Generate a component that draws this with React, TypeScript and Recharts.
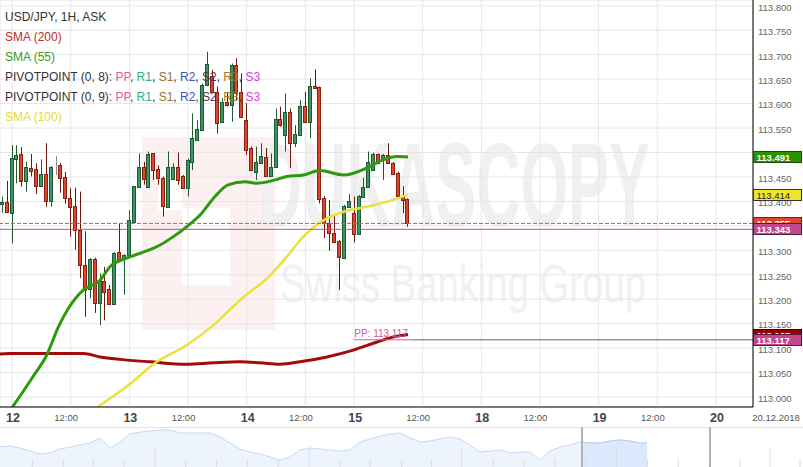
import React from 'react';
import { ComposedChart, Bar, Line, XAxis, YAxis, CartesianGrid, ReferenceLine, AreaChart, Area } from 'recharts';

const FONT = '"Liberation Sans", Arial, Helvetica, sans-serif';

// ---- hourly candles (USD/JPY, 1H, ASK) ----
const candleOpen = [113.394,113.399,113.376,113.486,113.497,113.442,113.468,113.466,113.432,113.457,113.401,113.469,113.474,113.449,113.408,113.391,113.342,113.271,113.220,113.282,113.193,113.237,113.220,113.190,113.297,113.284,113.290,113.358,113.430,113.471,113.430,113.498,113.466,113.448,113.389,113.445,113.471,113.451,113.427,113.481,113.526,113.546,113.638,113.656,113.624,113.563,113.604,113.597,113.679,113.624,113.566,113.509,113.460,113.479,113.491,113.451,113.471,113.568,113.536,113.583,113.519,113.536,113.595,113.563,113.636,113.633,113.408,113.355,113.336,113.319,113.284,113.388,113.377,113.333,113.410,113.430,113.464,113.496,113.485,113.495,113.479,113.459,113.411,113.404];
const candleHigh = [113.410,113.442,113.515,113.515,113.511,113.481,113.497,113.478,113.486,113.519,113.472,113.493,113.479,113.460,113.427,113.428,113.420,113.339,113.284,113.285,113.253,113.266,113.229,113.297,113.355,113.292,113.382,113.431,113.498,113.481,113.502,113.498,113.474,113.451,113.502,113.478,113.500,113.454,113.488,113.580,113.566,113.641,113.706,113.669,113.635,113.611,113.624,113.682,113.693,113.662,113.601,113.512,113.512,113.519,113.509,113.498,113.590,113.594,113.621,113.590,113.556,113.607,113.624,113.652,113.670,113.635,113.411,113.403,113.372,113.321,113.393,113.415,113.410,113.413,113.448,113.502,113.500,113.498,113.497,113.519,113.481,113.461,113.431,113.406];
const candleLow = [113.377,113.378,113.314,113.437,113.430,113.420,113.451,113.415,113.430,113.389,113.389,113.454,113.418,113.395,113.328,113.301,113.243,113.164,113.202,113.172,113.147,113.157,113.190,113.190,113.276,113.209,113.290,113.358,113.430,113.434,113.430,113.444,113.434,113.369,113.389,113.444,113.434,113.427,113.410,113.464,113.526,113.546,113.638,113.624,113.539,113.563,113.594,113.563,113.607,113.573,113.495,113.464,113.444,113.479,113.451,113.451,113.471,113.553,113.502,113.468,113.511,113.536,113.563,113.529,113.631,113.396,113.325,113.299,113.316,113.219,113.284,113.388,113.316,113.333,113.410,113.430,113.464,113.476,113.444,113.477,113.454,113.409,113.376,113.348];
const candleClose = [113.399,113.378,113.488,113.495,113.442,113.470,113.463,113.431,113.457,113.401,113.470,113.469,113.448,113.406,113.388,113.342,113.269,113.219,113.282,113.192,113.237,113.215,113.190,113.295,113.279,113.290,113.362,113.431,113.471,113.446,113.496,113.464,113.447,113.391,113.471,113.471,113.444,113.427,113.485,113.529,113.549,113.639,113.682,113.624,113.561,113.604,113.597,113.679,113.621,113.573,113.505,113.464,113.481,113.493,113.451,113.471,113.568,113.556,113.583,113.519,113.538,113.595,113.563,113.636,113.631,113.404,113.355,113.335,113.316,113.286,113.391,113.401,113.333,113.411,113.430,113.481,113.497,113.478,113.495,113.479,113.457,113.411,113.403,113.355];

// ---- indicators (readings: hour index, value) ----
const sma200Idx = [-0.5,1.6,16.6,20,24.1,30.2,37.7,43.2,48.6,52.7,56.8,60.9,66.4,71.8,75.9,80,83];
const sma200Val = [113.088,113.089,113.089,113.082,113.077,113.072,113.067,113.070,113.072,113.070,113.067,113.072,113.082,113.096,113.110,113.123,113.128];
const sma55Idx = [-0.5,0,2.1,6.3,9.1,11.5,13.5,16.6,20,22,25.4,28.2,32.3,35,37.7,40.8,43.5,46.2,49.7,52,55.8,58.2,61.6,65,69.8,74.5,77.9,80.7,83];
const sma55Val = [112.946,112.951,112.980,113.042,113.086,113.144,113.181,113.219,113.239,113.266,113.284,113.294,113.311,113.328,113.348,113.376,113.410,113.434,113.440,113.437,113.444,113.451,113.454,113.463,113.454,113.468,113.485,113.492,113.491];
const sma100Idx = [17.3,19.6,25.4,31.6,37.7,43.2,48.6,54.8,58.2,61.6,65,69.8,74.5,78.6,83];
const sma100Val = [112.963,112.980,113.021,113.072,113.106,113.147,113.198,113.249,113.287,113.328,113.357,113.379,113.389,113.399,113.414];

const askPrice = 113.355;
const pivot9 = 113.343;
const pivotPP = 113.117;
const sma200Last = 113.127;
const pivotStartIdx = 72;

// ---- axes ----
const hourTicks = [2,14,26,38,50,62,72,86,98,110,122,134,146];
const hourTickLabels = ['12','12:00','13','12:00','14','12:00','15','12:00','18','12:00','19','12:00','20'];
const priceTicks = [113.0,113.05,113.1,113.15,113.2,113.25,113.3,113.35,113.4,113.45,113.5,113.55,113.6,113.65,113.7,113.75,113.8];
const xDomain = [-0.47, 153.58];
const yDomain = [112.9796, 113.8119];

// ---- navigator overview ----
const navLevels = [20,21,19,16,13,14,18,20,22,24,29,19,25,33,35,36,37,37,34,34,34,34,30,24,18,15,13,10,7,10,17,19,18,17,16,17,25,28,31,33,34,29,25,26,28,30,28,22,15,16,17,14,15,15,7,16,20,22,25,24,24,26,27,26,24,24];
const navIdx = navLevels.map((_, i) => (i < 65 ? i : 64.7));
const navSelStart = 58.2;
const navHandleA = 58.2;
const navHandleB = 71.0;
const navTicks = [3.23,6.33,9.33,12.4,15.5,18.57,21.67,24.73,27.83,30.93,34.0,37.0,40.17,43.17,46.17,49.33,52.4,55.5,58.57,61.67,64.73,67.83,70.93,74.0,77.0,80.0];

const candles = candleOpen.map((o, i) => ({
  idx: i, open: o, high: candleHigh[i], low: candleLow[i], close: candleClose[i],
  range: [candleLow[i], candleHigh[i]],
}));
const sma200Data = sma200Idx.map((x, i) => ({ idx: x, v: sma200Val[i] }));
const sma55Data = sma55Idx.map((x, i) => ({ idx: x, v: sma55Val[i] }));
const sma100Data = sma100Idx.map((x, i) => ({ idx: x, v: sma100Val[i] }));
const navData = navLevels.map((v, i) => ({ t: navIdx[i], v }));
const navSelData = navData.filter(d => d.t >= 58).map(d => ({ t: d.t < navSelStart ? navSelStart : d.t, v: d.v }));

const Candle = (props: any) => {
  const { x, y, width, height, payload } = props;
  if (x == null || !payload) return null;
  const { open, close, high, low } = payload;
  const top = Math.min(y, y + height);
  const h = Math.abs(height);
  const py = (v: number) => top + ((high - v) / (high - low)) * h;
  const cx = Math.floor(x + width / 2);
  const doji = open === close;
  const up = close > open;
  const fill = doji ? '#8a8a8a' : up ? '#3f9466' : '#e0452d';
  const stroke = doji ? '#8a8a8a' : up ? '#1d5a33' : '#86200f';
  const wick = doji ? '#8a8a8a' : up ? '#1f5a31' : '#6d170b';
  const bt = Math.round(py(Math.max(open, close))) + 0.5;
  const bb = Math.round(py(Math.min(open, close))) + 0.5;
  return (
    <g>
      <line x1={cx + 0.5} x2={cx + 0.5} y1={py(high)} y2={py(low)} stroke={wick} strokeWidth={1} />
      <rect x={cx - 1.5} y={bt} width={3} height={Math.max(bb - bt, 0)} fill={fill} stroke={stroke} strokeWidth={1} />
    </g>
  );
};

const HourTick = (props: any) => {
  const { x, payload } = props;
  const i = hourTicks.indexOf(payload.value);
  const label = hourTickLabels[i] ?? '';
  const isDay = label.indexOf(':') < 0;
  return isDay ? (
    <text x={x + 1} y={421.5} textAnchor="middle" fontSize={12.5} fontWeight="bold" fill="#444" fontFamily={FONT}>{label}</text>
  ) : (
    <text x={x - 4.5} y={421} textAnchor="middle" fontSize={9.5} fill="#555" fontFamily={FONT}>{label}</text>
  );
};

const PriceTick = (props: any) => {
  const { y, payload } = props;
  return (
    <text x={758} y={y + 4.8} textAnchor="start" fontSize={9.5} fill="#666" fontFamily={FONT}>{payload.value.toFixed(3)}</text>
  );
};

const PriceTag = (props: any) => {
  const { viewBox, text, bg, fg, border, bold } = props;
  if (!viewBox) return null;
  const yy = Math.round(viewBox.y);
  const x0 = viewBox.x + viewBox.width;
  return (
    <g>
      <rect x={x0 + 0.5} y={yy - 5.5} width={48} height={11} fill={bg} stroke={border} strokeWidth={1} />
      <text x={x0 + 3.5} y={yy + 4} fontSize={9.5} fontWeight={bold ? 'bold' : 'normal'} fill={fg} fontFamily={FONT}>{text}</text>
    </g>
  );
};

const PPLabel = (props: any) => {
  const { viewBox } = props;
  if (!viewBox) return null;
  return <text x={viewBox.x} y={viewBox.y - 2.5} fontSize={10} fill="#cf5a9e" fontFamily={FONT}>{`PP: ${pivotPP.toFixed(3)}`}</text>;
};

const C_PP = '#de5aa3', C_R1 = '#2fb07e', C_S1 = '#9a7432', C_R2 = '#4052b5', C_S2 = '#5b2f4b', C_R3 = '#a77b2a', C_S3 = '#dd40dd';

const PivotLegend = ({ y, label }: { y: number; label: string }) => (
  <text x={5} y={y} fontSize={12} fontFamily={FONT} fill="#333">
    <tspan>{label}</tspan>
    <tspan fill={C_PP}>PP</tspan><tspan>, </tspan>
    <tspan fill={C_R1}>R1</tspan><tspan>, </tspan>
    <tspan fill={C_S1}>S1</tspan><tspan>, </tspan>
    <tspan fill={C_R2}>R2</tspan><tspan>, </tspan>
    <tspan fill={C_S2}>S2</tspan><tspan>, </tspan>
    <tspan fill={C_R3}>R3</tspan><tspan>, </tspan>
    <tspan fill={C_S3}>S3</tspan>
  </text>
);

const CHART_MARGIN = { top: 0, right: 0, bottom: 0, left: 0 };

export default function App() {
  return (
    <div style={{ position: 'absolute', left: 0, top: 0, width: 803, height: 467, background: '#fff', fontFamily: FONT, overflow: 'hidden' }}>
      {/* watermark */}
      <svg width={803} height={467} style={{ position: 'absolute', left: 0, top: 0 }}>
        <rect x={142} y={137} width={133} height={193} fill="#fdf0f0" />
        <rect x={158} y={170} width={24} height={40} fill="#ffffff" />
        <rect x={182} y={208} width={48} height={77} fill="#ffffff" />
        <text x={258} y={226} fontSize={118} fontWeight="bold" fill="#f0f0f0" fontFamily={FONT} textLength={392} lengthAdjust="spacingAndGlyphs">DUKASCOPY</text>
        <text x={280} y={302} fontSize={54} fill="#f1f1f1" fontFamily={FONT} textLength={366} lengthAdjust="spacingAndGlyphs">Swiss Banking Group</text>
      </svg>

      {/* main price chart */}
      <div style={{ position: 'absolute', left: 0, top: 0 }}>
        <ComposedChart width={803} height={425} data={candles} margin={CHART_MARGIN}>
          <CartesianGrid stroke="#e6e6e6" strokeWidth={1} />
          <XAxis dataKey="idx" type="number" domain={xDomain} ticks={hourTicks} allowDataOverflow
            height={18} axisLine={{ stroke: '#000' }} tickLine={false} tick={<HourTick />} interval={0} />
          <YAxis type="number" orientation="right" domain={yDomain} ticks={priceTicks} allowDataOverflow
            width={50} axisLine={{ stroke: '#000' }} tickLine={false} tick={<PriceTick />} interval={0} />
          <Bar dataKey="range" barSize={5} isAnimationActive={false} shape={(p: any) => <Candle {...p} />} />
          <Line data={sma200Data} dataKey="v" type="monotone" stroke="#a30b0b" strokeWidth={3} dot={false} isAnimationActive={false} connectNulls />
          <Line data={sma100Data} dataKey="v" type="monotone" stroke="#ebe13a" strokeWidth={2.5} dot={false} isAnimationActive={false} connectNulls />
          <Line data={sma55Data} dataKey="v" type="monotone" stroke="#2c9a0e" strokeWidth={3} dot={false} isAnimationActive={false} connectNulls />
          <ReferenceLine y={pivot9} stroke="#c4478d" strokeWidth={1} />
          <ReferenceLine y={askPrice} stroke="#e8553b" strokeWidth={1} strokeDasharray="4 2" />
          <ReferenceLine segment={[{ x: pivotStartIdx, y: pivotPP }, { x: 84, y: pivotPP }]} stroke="#cf5a9e" strokeWidth={1} label={<PPLabel />} />
          <ReferenceLine segment={[{ x: 84, y: pivotPP }, { x: xDomain[1], y: pivotPP }]} stroke="#666" strokeWidth={1} />
        </ComposedChart>
      </div>

      {/* last-value tags, drawn above the price axis labels with the same scales */}
      <div style={{ position: 'absolute', left: 0, top: 0, pointerEvents: 'none' }}>
        <ComposedChart width={803} height={425} data={candles} margin={CHART_MARGIN}>
          <XAxis dataKey="idx" type="number" domain={xDomain} allowDataOverflow height={18} axisLine={false} tickLine={false} tick={false} />
          <YAxis type="number" orientation="right" domain={yDomain} allowDataOverflow width={50} axisLine={false} tickLine={false} tick={false} />
          <ReferenceLine y={sma55Val[sma55Val.length - 1]} stroke="none" label={<PriceTag text="113.491" bg="#289400" fg="#fff" border="#1a4d05" bold />} />
          <ReferenceLine y={sma100Val[sma100Val.length - 1]} stroke="none" label={<PriceTag text="113.414" bg="#efe42c" fg="#222" border="#333" />} />
          <ReferenceLine y={askPrice} stroke="none" label={<PriceTag text="113.355" bg="#e0452d" fg="#fff" border="#7a1a0e" bold />} />
          <ReferenceLine y={pivot9} stroke="none" label={<PriceTag text="113.343" bg="#c4478d" fg="#fff" border="#5a1a3e" bold />} />
          <ReferenceLine y={sma200Last} stroke="none" label={<PriceTag text="113.127" bg="#9a0000" fg="#fff" border="#400" bold />} />
          <ReferenceLine y={pivotPP} stroke="none" label={<PriceTag text="113.117" bg="#c4478d" fg="#fff" border="#5a1a3e" bold />} />
        </ComposedChart>
      </div>

      {/* legend and date overlay */}
      <svg width={803} height={467} style={{ position: 'absolute', left: 0, top: 0, pointerEvents: 'none' }}>
        <text x={5} y={20.7} fontSize={12} fontFamily={FONT} fill="#333">USD/JPY, 1H, ASK</text>
        <text x={5} y={40.7} fontSize={12} fontFamily={FONT} fill="#c0302a">SMA (200)</text>
        <text x={5} y={60.7} fontSize={12} fontFamily={FONT} fill="#3a9a1e">SMA (55)</text>
        <PivotLegend y={80.7} label="PIVOTPOINT (0, 8): " />
        <PivotLegend y={100.7} label="PIVOTPOINT (0, 9): " />
        <text x={5} y={120.7} fontSize={12} fontFamily={FONT} fill="#e8dc30">SMA (100)</text>
        <text x={776} y={421} textAnchor="middle" fontSize={9.5} fontFamily={FONT} fill="#555">20.12.2018</text>
        <line x1={0} x2={803} y1={427.5} y2={427.5} stroke="#e3e3e3" />
      </svg>

      {/* navigator */}
      <div style={{ position: 'absolute', left: 0, top: 427 }}>
        <AreaChart width={803} height={40} data={navData} margin={CHART_MARGIN}>
          <XAxis dataKey="t" type="number" domain={[0, 80.3]} hide allowDataOverflow />
          <YAxis type="number" domain={[0, 40]} hide allowDataOverflow />
          {navTicks.map((t, i) => (
            <ReferenceLine key={i} segment={[{ x: t, y: 0 }, { x: t, y: i % 5 === 4 ? 19 : 8 }]} stroke="#dcdcdc" strokeWidth={1} />
          ))}
          <Area data={navData} dataKey="v" type="linear" stroke="#c6d8f4" strokeWidth={1} fill="#eef4fd" fillOpacity={1} isAnimationActive={false} />
          <Area data={navSelData} dataKey="v" type="linear" stroke="#b9cff2" strokeWidth={1} fill="#dce8fb" fillOpacity={1} isAnimationActive={false} />
          <ReferenceLine x={navHandleA} stroke="#b4b4b4" strokeWidth={2} />
          <ReferenceLine x={navHandleB} stroke="#b4b4b4" strokeWidth={2} />
        </AreaChart>
      </div>
    </div>
  );
}
